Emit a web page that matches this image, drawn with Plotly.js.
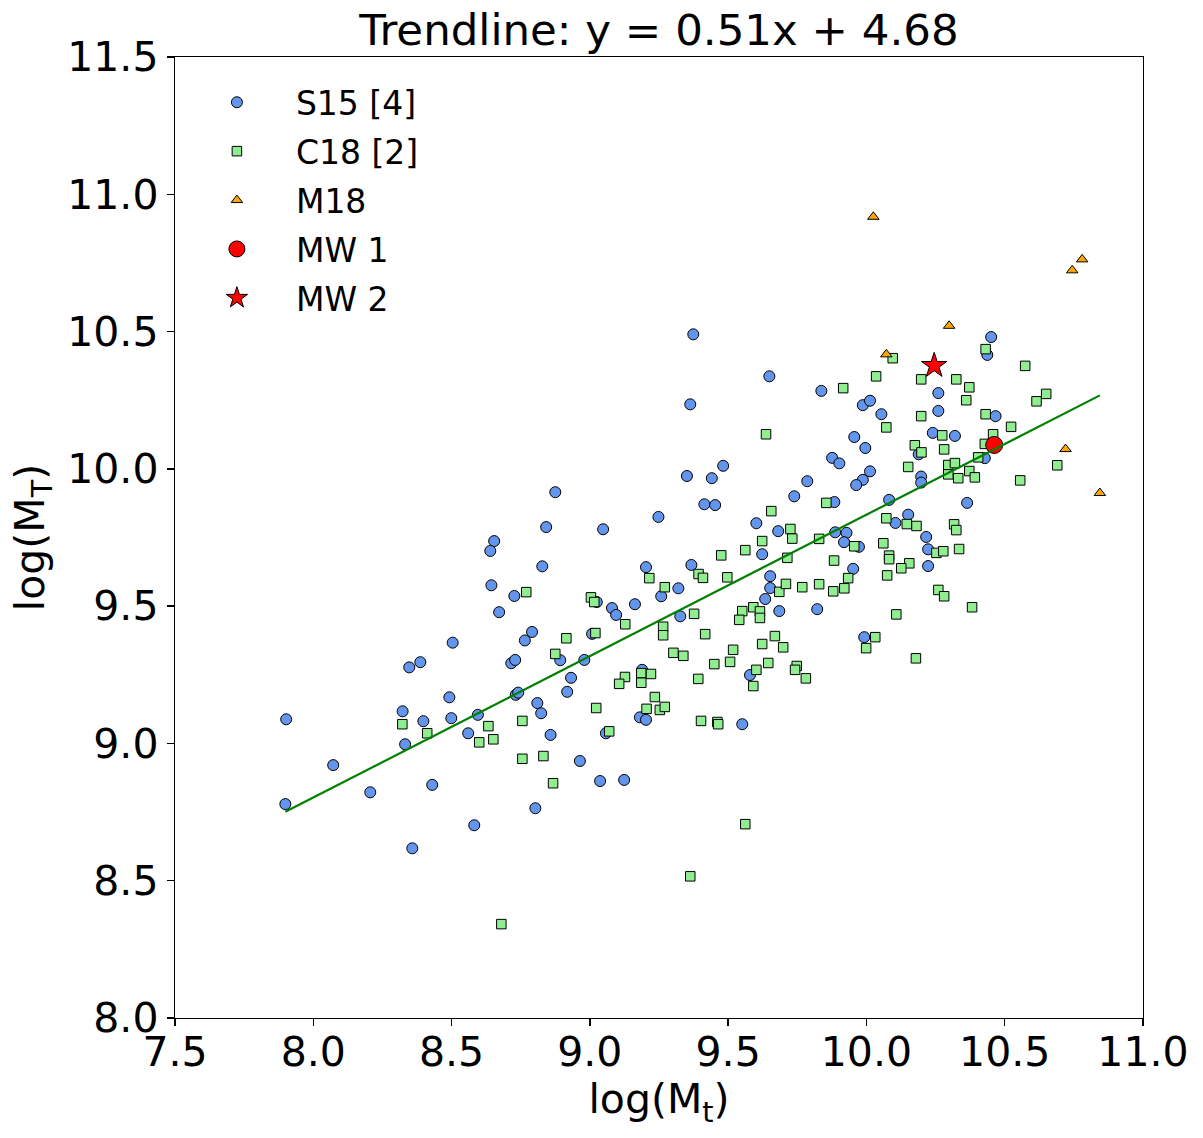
<!DOCTYPE html>
<html>
<head>
<meta charset="utf-8">
<script src="https://cdn.plot.ly/plotly-3.0.1.min.js"></script>
<style>html,body{margin:0;padding:0;background:#fff;}#chart{width:1203px;height:1138px;}</style>
</head>
<body>
<div id="chart"></div>
<script>
// S15 [4]
const s15X = [8.504,8.765,8.347,8.387,8.716,8.730,7.902,8.492,8.323,8.398,
  8.499,8.595,8.732,8.741,8.810,8.824,8.560,8.858,8.332,8.072,
  8.430,8.206,7.899,8.803,8.582,8.358,8.875,9.351,9.441,9.414,
  9.453,9.248,8.842,9.048,9.602,9.681,9.623,8.828,9.203,9.367,
  9.652,9.652,9.320,9.258,9.163,9.025,9.080,9.095,9.634,9.327,
  9.685,8.791,9.008,8.893,8.980,9.189,8.932,9.579,8.918,9.181,
  9.203,9.551,9.058,8.964,9.037,9.124,9.374,9.649,9.363,9.837,
  9.987,10.013,10.054,9.956,9.996,9.876,9.902,9.482,10.013,9.987,
  9.963,9.786,9.739,9.884,10.082,10.151,10.105,9.887,9.928,9.919,
  9.973,9.952,9.822,9.992,10.451,10.437,10.260,10.260,10.467,10.240,
  10.320,10.189,10.428,10.198,10.198,10.364,10.216,10.223,10.223,
  8.654,8.640,8.644,8.727,8.672];
const s15Y = [9.367,9.375,9.277,9.296,9.292,9.304,9.088,9.168,9.117,9.081,
  9.092,9.104,9.177,9.185,9.147,9.110,9.037,9.031,8.997,8.921,
  8.849,8.822,8.779,8.764,8.702,8.618,9.915,9.974,9.966,9.871,
  9.868,9.825,9.788,9.780,9.802,9.773,9.689,9.645,9.642,9.650,
  9.609,9.566,9.565,9.536,9.507,9.515,9.493,9.468,9.526,9.463,
  9.482,9.406,9.399,9.303,9.304,9.268,9.239,9.249,9.188,9.095,
  9.086,9.070,9.037,8.936,8.863,8.867,10.490,10.337,10.235,10.284,
  10.232,10.248,10.199,10.116,10.076,10.040,10.020,10.011,9.991,9.960,
  9.941,9.955,9.900,9.879,9.887,9.833,9.803,9.769,9.767,9.733,
  9.716,9.636,9.489,9.387,10.480,10.415,10.276,10.211,10.192,10.131,
  10.120,10.053,10.039,9.972,9.950,9.876,9.752,9.707,9.646,
  9.737,9.701,9.576,9.537,9.478];

// C18 [2]
const c18X = [8.322,8.412,8.633,8.600,8.651,8.756,8.756,8.832,8.680,8.867,
  9.656,9.725,9.623,9.475,9.562,9.714,9.215,9.393,9.409,9.497,
  9.685,9.709,9.271,9.004,9.016,8.770,9.128,9.377,9.551,9.591,
  9.615,9.540,9.615,9.265,9.265,8.915,9.020,9.417,9.669,9.623,
  9.699,8.875,9.302,9.338,9.518,9.450,9.507,9.645,9.186,9.221,
  9.127,9.106,9.186,9.392,9.602,9.591,9.235,9.205,9.253,9.271,
  9.023,9.402,9.461,9.464,9.070,9.562,9.363,10.095,10.035,9.916,
  10.072,9.637,10.175,10.151,9.855,10.072,10.146,10.181,9.732,9.829,
  9.956,10.061,10.082,9.883,10.155,10.082,10.126,10.075,9.934,9.920,
  9.880,9.829,9.768,10.108,10.032,9.999,10.179,9.748,9.742,9.781,
  10.431,10.574,10.198,10.325,10.372,10.361,10.650,10.615,10.198,10.431,
  10.523,10.274,10.458,10.428,
  10.199,10.281,10.296,10.320,10.296,10.332,10.372,10.392,10.404,
  10.690,10.556,10.317,10.325,10.253,10.278,10.335,10.260,10.281,10.382];
const c18Y = [9.070,9.037,9.063,9.004,9.015,9.082,8.944,8.954,8.342,8.855,
  9.846,9.781,9.737,9.685,9.704,9.676,9.602,9.617,9.603,9.605,
  9.552,9.581,9.569,9.532,9.515,9.551,9.434,9.472,9.482,9.496,
  9.481,9.450,9.457,9.425,9.394,9.383,9.402,9.398,9.391,9.362,
  9.350,9.326,9.330,9.319,9.341,9.289,9.297,9.293,9.256,9.253,
  9.242,9.217,9.221,9.235,9.268,9.209,9.169,9.126,9.122,9.133,
  9.129,9.082,9.078,9.070,9.044,8.706,8.516,10.403,10.337,10.294,
  10.151,10.126,10.086,10.007,9.876,9.820,9.799,9.792,9.746,9.745,
  9.718,9.729,9.684,9.666,9.656,9.671,9.638,9.612,9.602,9.565,
  9.554,9.580,9.569,9.470,9.387,9.347,9.310,9.282,9.268,9.237,
  10.436,10.375,10.326,10.326,10.297,10.250,10.273,10.246,10.192,10.199,
  10.153,10.122,10.126,10.091,
  10.060,10.071,10.014,10.021,9.980,9.966,9.992,9.969,10.042,
  10.013,9.958,9.798,9.777,9.694,9.700,9.708,9.559,9.536,9.496];

// M18
const m18X = [10.025,10.780,10.744,10.299,10.072,10.720,10.844];
const m18Y = [10.918,10.763,10.723,10.521,10.417,10.072,9.912];

// Milky Way estimates
const mw1X = [10.462];
const mw1Y = [10.087];
const mw2X = [10.245];
const mw2Y = [10.376];

// Trendline (as drawn)
const trendSlope = 0.515;
const trendIntercept = 4.683;
const titleText = 'Trendline: y = 0.51x + 4.68';

const seriesNames = ['S15 [4]', 'C18 [2]', 'M18', 'MW 1', 'MW 2'];

const xTicks = [7.5, 8.0, 8.5, 9.0, 9.5, 10.0, 10.5, 11.0];
const xTickText = ['7.5', '8.0', '8.5', '9.0', '9.5', '10.0', '10.5', '11.0'];
const yTicks = [8.0, 8.5, 9.0, 9.5, 10.0, 10.5, 11.0, 11.5];
const yTickText = ['8.0', '8.5', '9.0', '9.5', '10.0', '10.5', '11.0', '11.5'];

const allX = s15X.concat(c18X, m18X, mw1X, mw2X);
const xMin = Math.min.apply(null, allX);
const xMax = Math.max.apply(null, allX);
const trendX = [xMin, xMax];
const trendY = trendX.map(v => trendSlope * v + trendIntercept);

const FONT = 'DejaVu Sans, Verdana, sans-serif';
const edge = {color: '#000', width: 1};

const traces = [
  {x: s15X, y: s15Y, name: seriesNames[0], type: 'scatter', mode: 'markers', legendgroup: 'a',
   marker: {symbol: 'circle', size: 11, color: '#6495ED', line: edge}},
  {x: c18X, y: c18Y, name: seriesNames[1], type: 'scatter', mode: 'markers', legendgroup: 'b',
   marker: {symbol: 'square', size: 9.5, color: '#90EE90', line: edge}},
  {x: m18X, y: m18Y, name: seriesNames[2], type: 'scatter', mode: 'markers', legendgroup: 'c',
   marker: {symbol: 'triangle-up', size: 10, color: '#FFA500', line: edge}},
  {x: mw1X, y: mw1Y, name: seriesNames[3], type: 'scatter', mode: 'markers', legendgroup: 'd',
   marker: {symbol: 'circle', size: 17, color: '#FF0000', line: edge}},
  {x: mw2X, y: mw2Y, name: seriesNames[4], type: 'scatter', mode: 'markers', legendgroup: 'e',
   marker: {symbol: 'star', size: 19, color: '#FF0000', line: edge}},
  {x: trendX, y: trendY, type: 'scatter', mode: 'lines', showlegend: false, hoverinfo: 'skip',
   line: {color: '#008000', width: 2.2}}
];

const axisCommon = {
  showgrid: false, zeroline: false, showline: true, linecolor: '#000', linewidth: 1.3, mirror: true,
  ticks: 'outside', ticklen: 7, tickwidth: 1.3, tickcolor: '#000',
  tickfont: {family: FONT, size: 41, color: '#000'}
};

const layout = {
  width: 1203, height: 1138,
  margin: {l: 175, r: 60, t: 57, b: 120, pad: 0},
  paper_bgcolor: '#fff', plot_bgcolor: '#fff',
  font: {family: FONT, color: '#000'},
  title: {text: titleText, font: {family: FONT, size: 43.5, color: '#000'},
          x: 0.5, xref: 'paper', xanchor: 'center', y: 1, yref: 'paper', yanchor: 'bottom', pad: {b: 12}},
  xaxis: Object.assign({}, axisCommon, {range: [7.5, 11.0], tickmode: 'array', tickvals: xTicks, ticktext: xTickText,
    ticklabelstandoff: -10,
    title: {text: 'log(M<sub>t</sub>)', font: {family: FONT, size: 41, color: '#000'}, standoff: 4}}),
  yaxis: Object.assign({}, axisCommon, {range: [8.0, 11.5], tickmode: 'array', tickvals: yTicks, ticktext: yTickText,
    title: {text: 'log(M<sub>T</sub>)', font: {family: FONT, size: 41, color: '#000'}, standoff: 10}}),
  legend: {x: 0.003, y: 0.982, xanchor: 'left', yanchor: 'top', bgcolor: 'rgba(0,0,0,0)',
           font: {family: FONT, size: 33, color: '#000'}, tracegroupgap: 3, itemwidth: 108},
  showlegend: true
};

Plotly.newPlot('chart', traces, layout, {displayModeBar: false, staticPlot: true});
</script>
</body>
</html>
